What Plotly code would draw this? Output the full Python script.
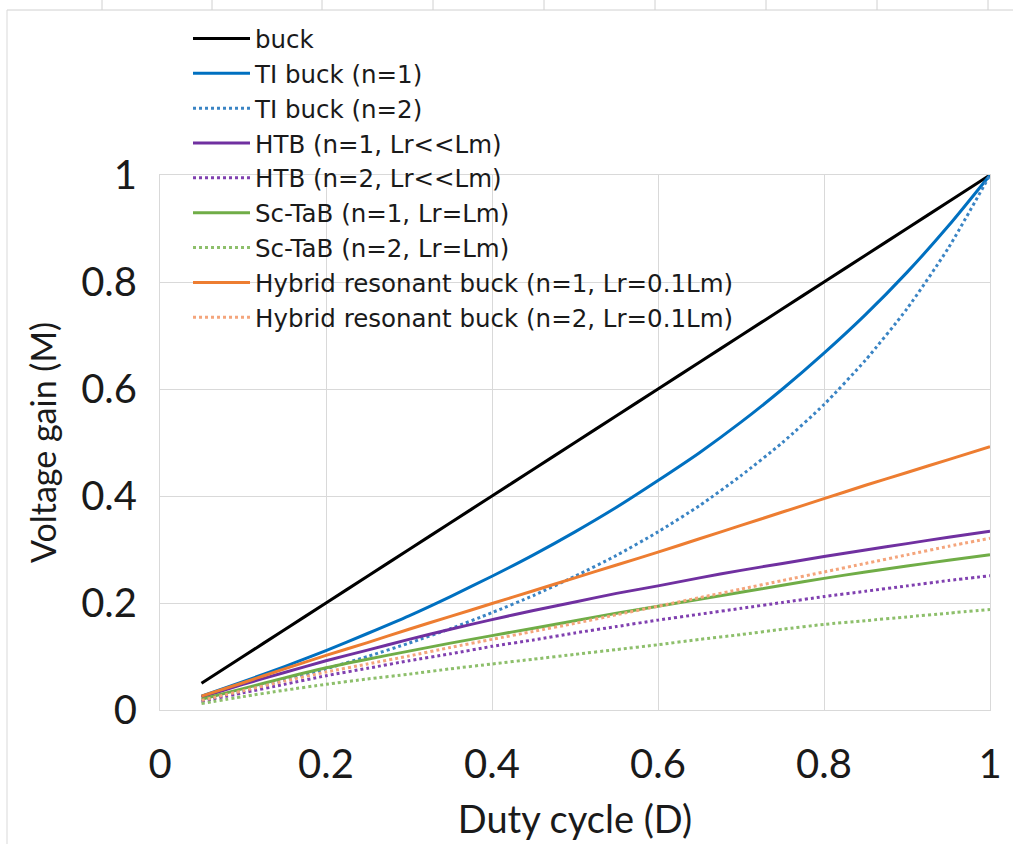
import plotly.graph_objects as go

# Duty cycle samples
duty = [0.05, 0.10, 0.15, 0.20, 0.25, 0.30, 0.35, 0.40, 0.45, 0.50,
        0.55, 0.60, 0.65, 0.70, 0.75, 0.80, 0.85, 0.90, 0.95, 1.00]

# Voltage gain of each topology
buck = [0.05, 0.10, 0.15, 0.20, 0.25, 0.30, 0.35, 0.40, 0.45, 0.50,
        0.55, 0.60, 0.65, 0.70, 0.75, 0.80, 0.85, 0.90, 0.95, 1.00]
ti_buck_n1 = [0.026, 0.053, 0.081, 0.111, 0.143, 0.176, 0.212, 0.250, 0.290, 0.333,
              0.379, 0.429, 0.481, 0.538, 0.600, 0.667, 0.739, 0.818, 0.905, 1.000]
ti_buck_n2 = [0.017, 0.036, 0.056, 0.077, 0.100, 0.125, 0.152, 0.182, 0.214, 0.250,
              0.289, 0.333, 0.382, 0.438, 0.500, 0.571, 0.654, 0.750, 0.864, 1.000]
htb_n1 = [0.024, 0.048, 0.070, 0.092, 0.112, 0.132, 0.151, 0.169, 0.186, 0.202,
          0.218, 0.232, 0.247, 0.261, 0.274, 0.287, 0.299, 0.311, 0.323, 0.334]
htb_n2 = [0.016, 0.032, 0.048, 0.064, 0.078, 0.092, 0.105, 0.119, 0.131, 0.144,
          0.156, 0.168, 0.179, 0.190, 0.201, 0.212, 0.222, 0.232, 0.242, 0.251]
sctab_n1 = [0.020, 0.040, 0.060, 0.079, 0.095, 0.110, 0.125, 0.139, 0.153, 0.167,
            0.181, 0.194, 0.207, 0.220, 0.233, 0.246, 0.258, 0.269, 0.280, 0.290]
sctab_n2 = [0.012, 0.025, 0.037, 0.048, 0.058, 0.067, 0.077, 0.086, 0.095, 0.104,
            0.113, 0.122, 0.132, 0.141, 0.151, 0.160, 0.167, 0.174, 0.181, 0.188]
hrb_n1 = [0.026, 0.051, 0.077, 0.102, 0.126, 0.151, 0.175, 0.199, 0.223, 0.247,
          0.271, 0.295, 0.320, 0.345, 0.370, 0.395, 0.420, 0.444, 0.468, 0.492]
hrb_n2 = [0.018, 0.036, 0.054, 0.071, 0.086, 0.101, 0.117, 0.132, 0.147, 0.162,
          0.178, 0.194, 0.210, 0.226, 0.242, 0.258, 0.274, 0.290, 0.306, 0.321]

series = [
    ("buck", buck, "#000000", "solid"),
    ("TI buck (n=1)", ti_buck_n1, "#0070C0", "solid"),
    ("TI buck (n=2)", ti_buck_n2, "#3A84C4", "dot"),
    ("HTB (n=1, Lr<<Lm)", htb_n1, "#7030A0", "solid"),
    ("HTB (n=2, Lr<<Lm)", htb_n2, "#8040B0", "dot"),
    ("Sc-TaB (n=1, Lr=Lm)", sctab_n1, "#70AD47", "solid"),
    ("Sc-TaB (n=2, Lr=Lm)", sctab_n2, "#8DBF6B", "dot"),
    ("Hybrid resonant buck (n=1, Lr=0.1Lm)", hrb_n1, "#ED7D31", "solid"),
    ("Hybrid resonant buck (n=2, Lr=0.1Lm)", hrb_n2, "#F4A57C", "dot"),
]

FONT = "Lato, 'Open Sans', sans-serif"
LEGEND_FONT = "'DejaVu Sans', 'Open Sans', sans-serif"
TEXT = "#1a1a1a"
GRID = "#d9d9d9"

fig = go.Figure()
for name, gain, color, dash in series:
    fig.add_trace(go.Scatter(
        x=duty, y=gain, name=name, mode="lines",
        line=dict(color=color, width=3, dash=dash, shape="spline", smoothing=0.6),
    ))

W, H = 1013, 844
L, R, T, B = 160, 23, 175, 134


def px_x(p):
    return (p - L) / (W - L - R)


def px_y(p):
    return (H - B - p) / (H - T - B)


# Sheet cell borders above the chart object and the chart frame
shapes = [dict(type="line", xref="paper", yref="paper",
               x0=px_x(7), x1=px_x(1013), y0=px_y(10), y1=px_y(10),
               line=dict(color="#d0d0d0", width=1)),
          dict(type="line", xref="paper", yref="paper",
               x0=px_x(7), x1=px_x(7), y0=px_y(10), y1=px_y(844),
               line=dict(color="#d9d9d9", width=1))]
for cx in [102, 212, 322, 433, 544, 655, 766, 877, 988]:
    shapes.append(dict(type="line", xref="paper", yref="paper",
                       x0=px_x(cx), x1=px_x(cx), y0=px_y(0), y1=px_y(10),
                       line=dict(color="#d0d0d0", width=1)))

axis_common = dict(
    range=[0, 1], tickvals=[0, 0.2, 0.4, 0.6, 0.8, 1.0],
    ticktext=["0", "0.2", "0.4", "0.6", "0.8", "1"],
    showgrid=True, gridcolor=GRID, gridwidth=1,
    showline=True, linecolor=GRID, linewidth=1, mirror=True,
    zeroline=False, ticks="", automargin=False,
    tickfont=dict(family=FONT, size=40, color=TEXT),
)

fig.update_layout(
    width=W, height=H,
    margin=dict(l=L, r=R, t=T, b=B, autoexpand=False),
    paper_bgcolor="white", plot_bgcolor="white",
    font=dict(family=FONT, color=TEXT),
    shapes=shapes,
    legend=dict(
        x=px_x(188), y=px_y(16), xanchor="left", yanchor="top",
        bgcolor="rgba(255,255,255,0)", borderwidth=0,
        font=dict(family=LEGEND_FONT, size=24.5, color=TEXT),
        itemwidth=57, tracegroupgap=0,
    ),
    xaxis=dict(
        **axis_common, ticklabelstandoff=19,
        title=dict(text="Duty cycle (D)", standoff=20,
                   font=dict(family=FONT, size=38, color=TEXT)),
    ),
    yaxis=dict(
        **axis_common, ticklabelstandoff=14,
        title=dict(text="Voltage gain (M)", standoff=14,
                   font=dict(family=FONT, size=34, color=TEXT)),
    ),
)

fig.write_html("out.html")
